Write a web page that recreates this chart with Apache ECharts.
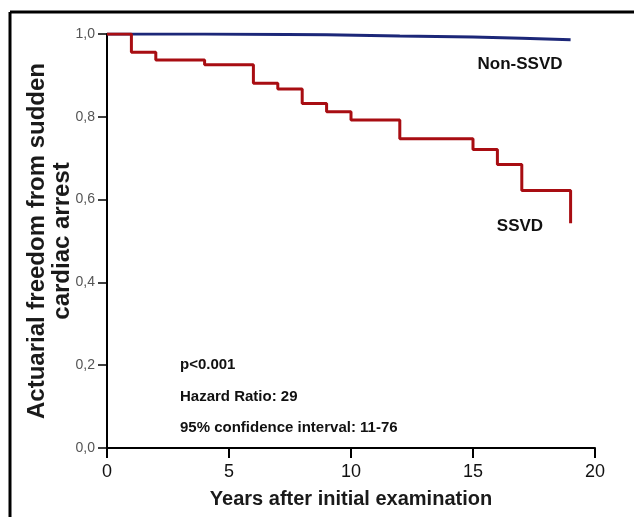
<!DOCTYPE html>
<html>
<head>
<meta charset="utf-8">
<script src="https://cdn.jsdelivr.net/npm/echarts@6/dist/echarts.min.js"></script>
<style>
html,body{margin:0;padding:0;background:#fff;}
#chart{width:634px;height:517px;}
</style>
</head>
<body>
<div id="chart"></div>
<script>
// Data (Kaplan-Meier step curves)
const ssvdYears = [0, 1, 2, 4, 6, 7, 8, 9, 10, 12, 15, 16, 17, 19];
const ssvdSurvival = [1.000, 0.956, 0.937, 0.926, 0.881, 0.867, 0.832, 0.812, 0.792, 0.747, 0.721, 0.685, 0.622, 0.543];
const nonSsvdYears = [0, 4, 9, 12, 15, 17, 19];
const nonSsvdSurvival = [1.000, 0.998, 0.995, 0.993, 0.990, 0.986, 0.986];
const xTicks = [0, 5, 10, 15, 20];
const yTicks = [0, 0.2, 0.4, 0.6, 0.8, 1.0];
const annotations = ['p<0.001', 'Hazard Ratio: 29', '95% confidence interval: 11-76'];
const seriesNames = ['Non-SSVD', 'SSVD'];
const yTitle = 'Actuarial freedom from sudden\ncardiac arrest';
const xTitle = 'Years after initial examination';

const FONT = '"Liberation Sans", Arial, sans-serif';
const chart = echarts.init(document.getElementById('chart'), null, {renderer: 'canvas'});

const pair = (xs, ys) => xs.map((x, i) => [x, ys[i]]);

chart.setOption({
  backgroundColor: '#ffffff',
  animation: false,
  grid: {left: 107, right: 39, top: 34, bottom: 69, containLabel: false},
  xAxis: {
    type: 'value',
    min: xTicks[0], max: xTicks[xTicks.length - 1], interval: 5,
    name: xTitle,
    nameLocation: 'middle', nameGap: 41,
    nameTextStyle: {fontFamily: FONT, fontSize: 20, fontWeight: 'bold', color: '#1a1a1a'},
    axisLine: {show: true, onZero: false, lineStyle: {color: '#000', width: 2}},
    axisTick: {show: true, length: 10, lineStyle: {color: '#000', width: 2}},
    axisLabel: {margin: 15, fontFamily: FONT, fontSize: 18, color: '#111'},
    splitLine: {show: false}
  },
  yAxis: {
    type: 'value',
    min: yTicks[0], max: yTicks[yTicks.length - 1], interval: 0.2,
    axisLine: {show: true, onZero: false, lineStyle: {color: '#000', width: 2}},
    axisTick: {show: true, length: 9, lineStyle: {color: '#000', width: 1.5}},
    axisLabel: {margin: 12, fontFamily: FONT, fontSize: 14, color: '#555',
      formatter: v => v.toFixed(1).replace('.', ',')},
    splitLine: {show: false}
  },
  series: [
    {
      name: seriesNames[0], type: 'line', step: 'end', symbol: 'none', z: 2,
      lineStyle: {color: '#1c2778', width: 3, cap: 'butt'},
      data: pair(nonSsvdYears, nonSsvdSurvival)
    },
    {
      name: seriesNames[1], type: 'line', step: 'end', symbol: 'none', z: 3,
      lineStyle: {color: '#a80d12', width: 3, cap: 'butt'},
      data: pair(ssvdYears, ssvdSurvival)
    }
  ],
  graphic: [
    {type: 'line', shape: {x1: 10, y1: 12, x2: 634, y2: 12}, style: {stroke: '#000', lineWidth: 3}},
    {type: 'line', shape: {x1: 10, y1: 12, x2: 10, y2: 517}, style: {stroke: '#000', lineWidth: 3}},
    {type: 'text', x: 50, y: 241, rotation: Math.PI / 2,
      style: {text: yTitle, font: 'bold 24px ' + FONT, lineHeight: 25, fill: '#1a1a1a', textAlign: 'center', textVerticalAlign: 'middle', align: 'center', verticalAlign: 'middle'}},
    {type: 'text', x: 520, y: 64, style: {text: seriesNames[0], font: 'bold 17px ' + FONT, fill: '#111', textAlign: 'center', textVerticalAlign: 'middle'}},
    {type: 'text', x: 520, y: 226, style: {text: seriesNames[1], font: 'bold 17px ' + FONT, fill: '#111', textAlign: 'center', textVerticalAlign: 'middle'}},
    {type: 'text', x: 180, y: 365, style: {text: annotations[0], font: 'bold 15px ' + FONT, fill: '#111', textAlign: 'left', textVerticalAlign: 'middle'}},
    {type: 'text', x: 180, y: 397, style: {text: annotations[1], font: 'bold 15px ' + FONT, fill: '#111', textAlign: 'left', textVerticalAlign: 'middle'}},
    {type: 'text', x: 180, y: 428, style: {text: annotations[2], font: 'bold 15px ' + FONT, fill: '#111', textAlign: 'left', textVerticalAlign: 'middle'}}
  ]
});
</script>
</body>
</html>
